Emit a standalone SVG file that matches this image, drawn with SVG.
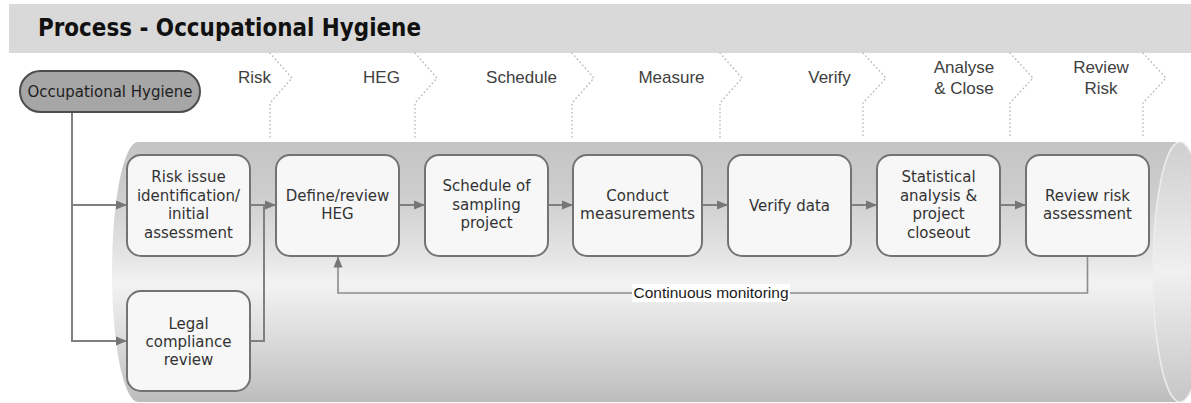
<svg xmlns="http://www.w3.org/2000/svg" width="1191" height="403" viewBox="0 0 1191 403">
  <style>
    .title { font-family: "DejaVu Sans", Verdana, sans-serif; font-weight: bold; font-size: 24px; fill: #111; }
    .phase { font-family: "Liberation Sans", Arial, sans-serif; font-size: 17px; fill: #404040; text-anchor: middle; }
    .box { fill: #f7f7f7; stroke: #737373; stroke-width: 2; }
    .txt { font-family: "DejaVu Sans", Verdana, sans-serif; font-size: 15px; fill: #333; text-anchor: middle; }
    .chev { fill: none; stroke: #bdbdbd; stroke-width: 1.5; stroke-dasharray: 0.5 3.5; stroke-linecap: round; }
    .link { fill: none; stroke: #808080; stroke-width: 2; }
    .loop { fill: none; stroke: #8c8c8c; stroke-width: 1.6; }
    .lbl { font-family: "Liberation Sans", Arial, sans-serif; font-size: 15.5px; fill: #1a1a1a; text-anchor: middle; }
  </style>
  <defs>
    <linearGradient id="tube" gradientUnits="userSpaceOnUse" x1="0" y1="142" x2="0" y2="402">
      <stop offset="0" stop-color="#c4c4c4"/>
      <stop offset="0.2" stop-color="#cdcdcd"/>
      <stop offset="0.45" stop-color="#e6e6e6"/>
      <stop offset="0.54" stop-color="#f3f3f3"/>
      <stop offset="0.75" stop-color="#dcdcdc"/>
      <stop offset="1" stop-color="#bdbdbd"/>
    </linearGradient>
    <linearGradient id="face" gradientUnits="userSpaceOnUse" x1="0" y1="142" x2="0" y2="402">
      <stop offset="0" stop-color="#cfcfcf"/>
      <stop offset="0.5" stop-color="#f0f0f0"/>
      <stop offset="1" stop-color="#c6c6c6"/>
    </linearGradient>
    <marker id="arrow" markerUnits="userSpaceOnUse" markerWidth="12" markerHeight="10" refX="11" refY="5" orient="auto">
      <path d="M0,0.5 L11,5 L0,9.5 Z" fill="#767676"/>
    </marker>
  </defs>

  <!-- header band -->
  <rect x="9" y="4" width="1182" height="49" fill="#d9d9d9"/>
  <text class="title" x="38" y="36" textLength="383" lengthAdjust="spacingAndGlyphs">Process - Occupational Hygiene</text>

  <!-- phase chevrons -->
  <g id="phases">
    <path class="chev" d="M270 53 L292 78 L270 103 V138"/>
    <path class="chev" d="M415 53 L437 78 L415 103 V138"/>
    <path class="chev" d="M572 53 L594 78 L572 103 V138"/>
    <path class="chev" d="M720 53 L742 78 L720 103 V138"/>
    <path class="chev" d="M863 53 L886 78 L863 103 V138"/>
    <path class="chev" d="M1010 53 L1033 78 L1010 103 V138"/>
    <path class="chev" d="M1143 53 L1166 78 L1143 103 V138"/>
    <text class="phase" x="254.5" y="83">Risk</text>
    <text class="phase" x="381.5" y="83">HEG</text>
    <text class="phase" x="521.5" y="83">Schedule</text>
    <text class="phase" x="671.5" y="83">Measure</text>
    <text class="phase" x="829.5" y="83">Verify</text>
    <text class="phase" x="964" y="73">Analyse</text>
    <text class="phase" x="964" y="94">&amp; Close</text>
    <text class="phase" x="1101" y="73">Review</text>
    <text class="phase" x="1101" y="94">Risk</text>
  </g>

  <!-- pipeline cylinder -->
  <g id="pipeline">
    <path d="M138 142 L1180 142 A27 130 0 0 1 1180 402 L138 402 A26 130 0 0 1 138 142 Z" fill="url(#tube)"/>
    <ellipse cx="1180" cy="272" rx="27" ry="130" fill="url(#face)" stroke="#ededed" stroke-width="1.5"/>
  </g>

  <!-- connectors -->
  <g id="connectors">
    <path class="link" d="M72 112 V205 H127" marker-end="url(#arrow)"/>
    <path class="link" d="M72 205 V341 H127" marker-end="url(#arrow)"/>
    <path class="link" d="M250 205 H276" marker-end="url(#arrow)"/>
    <path class="link" d="M250 341 H264 V205"/>
    <path class="link" d="M399 205 H425" marker-end="url(#arrow)"/>
    <path class="link" d="M548 205 H573" marker-end="url(#arrow)"/>
    <path class="link" d="M702 205 H728" marker-end="url(#arrow)"/>
    <path class="link" d="M851 205 H877" marker-end="url(#arrow)"/>
    <path class="link" d="M1000 205 H1026" marker-end="url(#arrow)"/>
    <path class="loop" d="M1087.5 256 V293 H338 V256.5" marker-end="url(#arrow)"/>
    <rect x="632" y="284" width="158" height="18" fill="#ffffff"/>
    <text class="lbl" x="711" y="298">Continuous monitoring</text>
  </g>

  <!-- start node -->
  <g id="occupational-hygiene">
    <rect x="20" y="71" width="180" height="41" rx="20.5" fill="#a6a6a6" stroke="#4d4d4d" stroke-width="2"/>
    <text class="txt" x="110" y="97" style="fill:#1e1e1e">Occupational Hygiene</text>
  </g>

  <!-- process steps -->
  <g id="risk-issue">
    <rect class="box" x="127" y="155" width="123" height="101" rx="14"/>
    <text class="txt" x="188.5" y="182">Risk issue</text>
    <text class="txt" x="188.5" y="200.5">identification/</text>
    <text class="txt" x="188.5" y="219">initial</text>
    <text class="txt" x="188.5" y="237.5">assessment</text>
  </g>
  <g id="legal-compliance">
    <rect class="box" x="127" y="291" width="123" height="100" rx="14"/>
    <text class="txt" x="188.5" y="328.5">Legal</text>
    <text class="txt" x="188.5" y="347">compliance</text>
    <text class="txt" x="188.5" y="365">review</text>
  </g>
  <g id="define-heg">
    <rect class="box" x="276" y="155" width="123" height="101" rx="14"/>
    <text class="txt" x="337.5" y="200.5">Define/review</text>
    <text class="txt" x="337.5" y="219">HEG</text>
  </g>
  <g id="schedule">
    <rect class="box" x="425" y="155" width="123" height="101" rx="14"/>
    <text class="txt" x="486.5" y="191">Schedule of</text>
    <text class="txt" x="486.5" y="209.5">sampling</text>
    <text class="txt" x="486.5" y="228">project</text>
  </g>
  <g id="conduct">
    <rect class="box" x="573" y="155" width="129" height="101" rx="14"/>
    <text class="txt" x="637.5" y="200.5">Conduct</text>
    <text class="txt" x="637.5" y="219" textLength="115" lengthAdjust="spacingAndGlyphs">measurements</text>
  </g>
  <g id="verify">
    <rect class="box" x="728" y="155" width="123" height="101" rx="14"/>
    <text class="txt" x="789.5" y="210.5">Verify data</text>
  </g>
  <g id="statistical">
    <rect class="box" x="877" y="155" width="123" height="101" rx="14"/>
    <text class="txt" x="938.5" y="182">Statistical</text>
    <text class="txt" x="938.5" y="200.5">analysis &amp;</text>
    <text class="txt" x="938.5" y="219">project</text>
    <text class="txt" x="938.5" y="237.5">closeout</text>
  </g>
  <g id="review-risk">
    <rect class="box" x="1026" y="155" width="123" height="101" rx="14"/>
    <text class="txt" x="1087.5" y="200.5">Review risk</text>
    <text class="txt" x="1087.5" y="219">assessment</text>
  </g>
</svg>
